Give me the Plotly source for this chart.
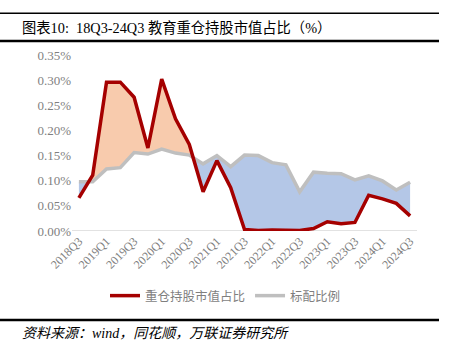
import plotly.graph_objects as go

quarters = ["2018Q3","2018Q4","2019Q1","2019Q2","2019Q3","2019Q4","2020Q1","2020Q2",
            "2020Q3","2020Q4","2021Q1","2021Q2","2021Q3","2021Q4","2022Q1","2022Q2",
            "2022Q3","2022Q4","2023Q1","2023Q2","2023Q3","2023Q4","2024Q1","2024Q2","2024Q3"]
# values in percent
heavy = [0.066,0.111,0.296,0.296,0.266,0.165,0.302,0.223,0.172,0.078,0.140,0.086,0.003,
         0.001,0.002,0.002,0.001,0.005,0.0185,0.0145,0.017,0.071,0.064,0.055,0.030]
standard = [0.098,0.098,0.1235,0.126,0.156,0.153,0.163,0.155,0.151,0.1335,0.150,0.128,0.151,
            0.150,0.136,0.1315,0.078,0.117,0.115,0.114,0.1016,0.1096,0.0996,0.0817,0.097]

r = [v / 100 for v in heavy]
g = [v / 100 for v in standard]
n = len(quarters)

# dense arrays with crossing points inserted
xs, rs, gs = [], [], []
for i in range(n):
    xs.append(i); rs.append(r[i]); gs.append(g[i])
    if i < n - 1:
        d0 = r[i] - g[i]
        d1 = r[i + 1] - g[i + 1]
        if d0 * d1 < 0:
            t = d0 / (d0 - d1)
            xs.append(i + t)
            yv = r[i] + t * (r[i + 1] - r[i])
            rs.append(yv); gs.append(yv)
mx = [max(a, b) for a, b in zip(rs, gs)]

fig = go.Figure()
# blue: between red and max (gray above red)
fig.add_trace(go.Scatter(x=xs, y=rs, mode="lines", line=dict(width=0), showlegend=False, hoverinfo="skip"))
fig.add_trace(go.Scatter(x=xs, y=mx, mode="lines", line=dict(width=0), fill="tonexty",
                         fillcolor="#B4C7E7", showlegend=False, hoverinfo="skip"))
# orange: between gray and max (red above gray)
fig.add_trace(go.Scatter(x=xs, y=gs, mode="lines", line=dict(width=0), showlegend=False, hoverinfo="skip"))
fig.add_trace(go.Scatter(x=xs, y=mx, mode="lines", line=dict(width=0), fill="tonexty",
                         fillcolor="#F8CBAD", showlegend=False, hoverinfo="skip"))

fig.add_trace(go.Scatter(x=list(range(n)), y=g, mode="lines", name="标配比例",
                         line=dict(color="#BFBFBF", width=3.5), legendrank=2))
fig.add_trace(go.Scatter(x=list(range(n)), y=r, mode="lines", name="重仓持股市值占比",
                         line=dict(color="#A50000", width=3.5), legendrank=1))

L, R, T, B = 72, 34, 55, 128
W, H = 451, 359
pw = W - L - R
ph = H - T - B

def px(xp):
    return (xp - L) / pw

def py(yp):
    return (H - B - yp) / ph

font_main = "Liberation Serif, Noto Sans CJK SC, serif"

fig.update_layout(
    width=W, height=H,
    margin=dict(l=L, r=R, t=T, b=B, autoexpand=False),
    paper_bgcolor="white", plot_bgcolor="white",
    font=dict(family=font_main, color="#7F7F7F", size=12),
    showlegend=True,
    legend=dict(orientation="h", x=0.445, xanchor="center", y=py(296), yanchor="middle",
                font=dict(size=12.5, color="#7F7F7F", family="Noto Sans CJK SC"),
                itemwidth=30, traceorder="normal"),
    xaxis=dict(range=[-0.5, n - 0.5], tickmode="array",
               tickvals=list(range(0, n, 2)), ticktext=quarters[0::2],
               tickangle=-45, showgrid=False, zeroline=False, showline=False,
               ticks="", automargin=False,
               tickfont=dict(size=12, color="#7F7F7F", family=font_main)),
    yaxis=dict(range=[0, 0.0035], dtick=0.0005, tickformat=".2%", showgrid=False,
               zeroline=False, showline=False, ticks="", automargin=False,
               tickfont=dict(size=13, color="#7F7F7F", family=font_main)),
    shapes=[
        dict(type="line", xref="paper", yref="paper", x0=px(0), x1=px(439), y0=py(13.3), y1=py(13.3),
             line=dict(color="black", width=1.5)),
        dict(type="line", xref="paper", yref="paper", x0=px(0), x1=px(439), y0=py(41), y1=py(41),
             line=dict(color="black", width=2.5)),
        dict(type="line", xref="paper", yref="paper", x0=px(0), x1=px(439), y0=py(320), y1=py(320),
             line=dict(color="black", width=2.5)),
        dict(type="line", xref="paper", yref="y", x0=0, x1=1, y0=0, y1=0,
             line=dict(color="#D9D9D9", width=1.5), layer="below"),
    ],
    annotations=[
        dict(text="图表10:  18Q3-24Q3 教育重仓持股市值占比（%）", xref="paper", yref="paper",
             x=px(20), y=py(28), xanchor="left", yanchor="middle", showarrow=False,
             font=dict(size=14.3, color="black", family=font_main)),
        dict(text="<i>资料来源：wind，同花顺，万联证券研究所</i>", xref="paper", yref="paper",
             x=px(20), y=py(333), xanchor="left", yanchor="middle", showarrow=False,
             font=dict(size=14, color="black", family=font_main)),
    ],
)

fig.write_html("out.html", config={"displayModeBar": False},
               post_script="document.body.style.margin='0px';")
